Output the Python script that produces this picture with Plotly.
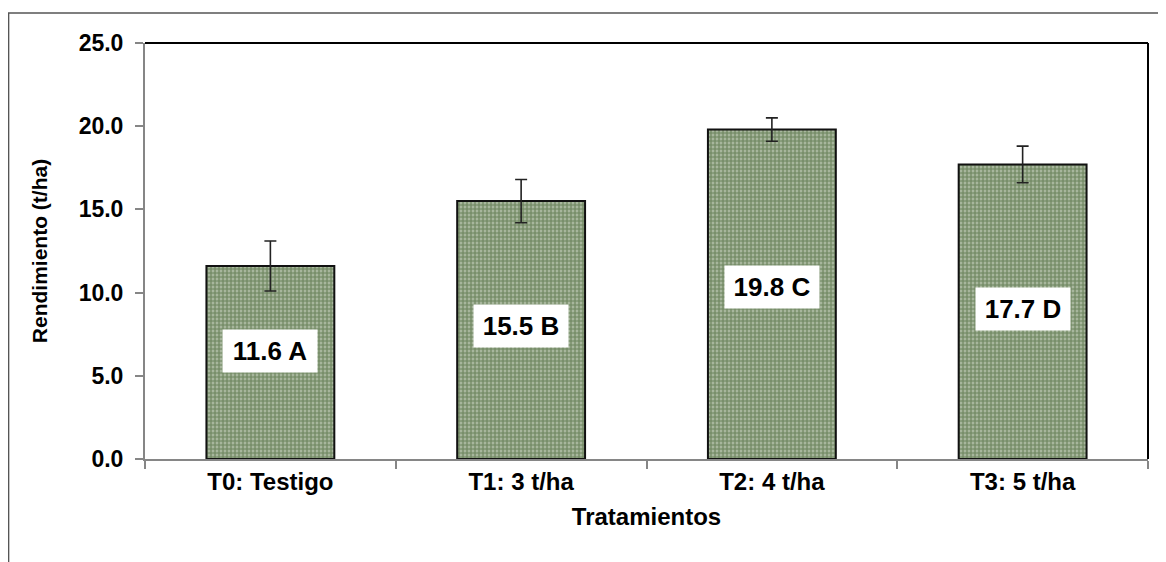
import plotly.graph_objects as go

# Datos del gráfico
tratamientos = ["T0: Testigo", "T1: 3 t/ha", "T2: 4 t/ha", "T3: 5 t/ha"]
rendimiento = [11.6, 15.5, 19.8, 17.7]
error = [1.5, 1.3, 0.7, 1.1]
letras = ["A", "B", "C", "D"]
etiqueta_y = [6.5, 8.0, 10.35, 9.0]  # altura de las cajas de texto

fuente = "Liberation Sans, Arial, sans-serif"

fig = go.Figure()

fig.add_trace(
    go.Bar(
        x=tratamientos,
        y=rendimiento,
        error_y=dict(type="data", array=error, visible=True,
                     color="#222222", thickness=1.6, width=6),
        marker=dict(
            color="#4b6b35",
            line=dict(color="#111111", width=2),
            pattern=dict(shape=".", bgcolor="#b9c5b0", fgcolor="#3a5a25",
                         size=4, solidity=0.72, fillmode="overlay"),
        ),
        width=0.51,
        hoverinfo="x+y",
    )
)

# Etiquetas con letras de significancia
for t, v, l, yl in zip(tratamientos, rendimiento, letras, etiqueta_y):
    fig.add_annotation(
        x=t, y=yl, text=f"<b>{v:.1f} {l}</b>", showarrow=False,
        font=dict(family=fuente, size=26, color="black"),
        bgcolor="white", width=90, height=38, borderpad=2,
    )

# Bordes superior y derecho del área de trazado
fig.add_shape(type="line", xref="paper", yref="paper", x0=0, x1=1, y0=1, y1=1,
              line=dict(color="black", width=2))
fig.add_shape(type="line", xref="paper", yref="paper", x0=1, x1=1, y0=0, y1=1,
              line=dict(color="black", width=2))
# Marco exterior
fig.add_shape(type="rect", xref="paper", yref="paper",
              x0=-0.136, x1=1.2, y0=-0.4, y1=1.072,
              line=dict(color="#555555", width=1.5), layer="below")

# la página añade 8 px de margen al cuerpo
fig.update_layout(
    width=1158, height=554,
    margin=dict(l=137, r=18, t=35, b=103),
    plot_bgcolor="white", paper_bgcolor="white",
    showlegend=False,
    font=dict(family=fuente, size=23, color="black"),
)

fig.update_xaxes(
    title=dict(text="<b>Tratamientos</b>", font=dict(size=24), standoff=14),
    tickfont=dict(size=24, family=fuente),
    tickvals=tratamientos,
    ticktext=[f"<b>{t}</b>" for t in tratamientos],
    showline=True, linecolor="#868686", linewidth=2,
    ticks="outside", tickson="boundaries", ticklen=8, tickcolor="#868686",
    tickwidth=1.5, showgrid=False,
)
fig.update_yaxes(
    title=dict(text="<b>Rendimiento (t/ha)</b>", font=dict(size=21), standoff=25),
    range=[0, 25], dtick=5, tickformat=".1f",
    tickvals=[0, 5, 10, 15, 20, 25],
    ticktext=[f"<b>{v:.1f}</b>" for v in [0, 5, 10, 15, 20, 25]],
    tickfont=dict(size=23, family=fuente),
    showline=True, linecolor="#868686", linewidth=2,
    ticks="outside", ticklen=8, tickcolor="#868686", tickwidth=1.5,
    ticklabelstandoff=7,
    showgrid=False, zeroline=False,
)

fig.write_html("out.html")
